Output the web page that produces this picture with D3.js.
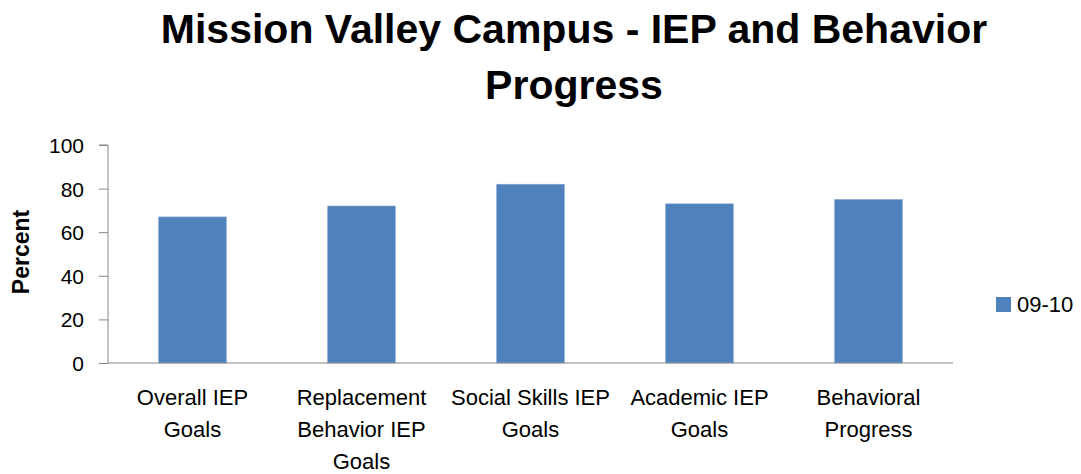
<!DOCTYPE html>
<html>
<head>
<meta charset="utf-8">
<script src="https://cdnjs.cloudflare.com/ajax/libs/d3/7.8.5/d3.min.js"></script>
<style>
  body { margin: 0; background: #fff; }
  text { font-family: "Liberation Sans", Arial, sans-serif; fill: #000; }
</style>
</head>
<body>
<div id="chart"></div>
<script>
// data
const categories = ["Overall IEP Goals", "Replacement Behavior IEP Goals", "Social Skills IEP Goals", "Academic IEP Goals", "Behavioral Progress"];
const values0910 = [67, 72, 82, 73, 75];
const seriesName = "09-10";
const yTicks = [0, 20, 40, 60, 80, 100];
const titleLines = ["Mission Valley Campus - IEP and Behavior", "Progress"];

const W = 1081, H = 474;
const margin = { top: 145, right: 128, bottom: 111, left: 108 };
const innerW = W - margin.left - margin.right,
      innerH = H - margin.top - margin.bottom;
const barColor = "#4f81bd", axisColor = "#868686";

const svg = d3.select("#chart").append("svg")
    .attr("width", W)
    .attr("height", H);

// title
svg.append("text")
    .attr("x", 572)
    .attr("y", 43)
    .attr("text-anchor", "middle")
    .style("font-size", "41px")
    .style("font-weight", "bold")
    .selectAll("tspan")
    .data(titleLines)
    .enter().append("tspan")
    .attr("x", 574)
    .attr("dy", (d, i) => i === 0 ? 0 : 56)
    .text(d => d);

const g = svg.append("g")
    .attr("transform", "translate(" + margin.left + "," + margin.top + ")");

const x = d3.scaleBand()
    .domain(categories)
    .range([0, innerW])
    .paddingInner(0.6)
    .paddingOuter(0.3);

const y = d3.scaleLinear()
    .domain([0, 100])
    .range([innerH, 0]);

// y axis
const yAxis = g.append("g")
    .call(d3.axisLeft(y).tickValues(yTicks).tickSize(9).tickPadding(15));
yAxis.select(".domain").attr("stroke", axisColor).attr("d", "M0," + innerH + "V0H-9");
yAxis.selectAll(".tick line").attr("stroke", axisColor);
yAxis.selectAll(".tick text").style("font-size", "21px").attr("dy", "0.36em");

// bars
g.selectAll(".bar")
    .data(values0910)
    .enter().append("rect")
    .attr("class", "bar")
    .attr("x", (d, i) => x(categories[i]))
    .attr("y", d => y(d))
    .attr("width", x.bandwidth())
    .attr("height", d => innerH - y(d))
    .attr("fill", barColor)
    .attr("stroke", "#7fa3d0")
    .attr("stroke-width", 0.6);

// x axis line
g.append("line")
    .attr("x1", 0).attr("x2", innerW)
    .attr("y1", innerH).attr("y2", innerH)
    .attr("stroke", axisColor)
    .attr("stroke-width", 1);

// x labels, wrapped to the category width
const step = innerW / categories.length;
const xLabels = g.selectAll(".xlabel")
    .data(categories)
    .enter().append("text")
    .attr("class", "xlabel")
    .attr("text-anchor", "middle")
    .style("font-size", "22px")
    .attr("y", innerH + 42);

xLabels.each(function (d) {
    const el = d3.select(this);
    const cx = x(d) + x.bandwidth() / 2;
    const words = d.split(" ");
    let lines = [], line = [];
    const probe = el.append("tspan");
    words.forEach(w => {
        const test = line.concat([w]).join(" ");
        probe.text(test);
        if (probe.node().getComputedTextLength() > step + 3 && line.length) {
            lines.push(line.join(" "));
            line = [w];
        } else {
            line.push(w);
        }
    });
    lines.push(line.join(" "));
    probe.remove();
    lines.forEach((t, i) => {
        el.append("tspan").attr("x", cx).attr("dy", i === 0 ? 0 : 32).text(t);
    });
});

// y axis title
svg.append("text")
    .attr("transform", "translate(29," + (margin.top + innerH / 2 - 2) + ") rotate(-90)")
    .attr("text-anchor", "middle")
    .style("font-size", "23px")
    .style("font-weight", "bold")
    .text("Percent");

// legend
const legend = svg.append("g").attr("transform", "translate(996,297)");
legend.append("rect")
    .attr("width", 15).attr("height", 15)
    .attr("fill", barColor);
legend.append("text")
    .attr("x", 21).attr("y", 15)
    .style("font-size", "22px")
    .text(seriesName);
</script>
</body>
</html>
